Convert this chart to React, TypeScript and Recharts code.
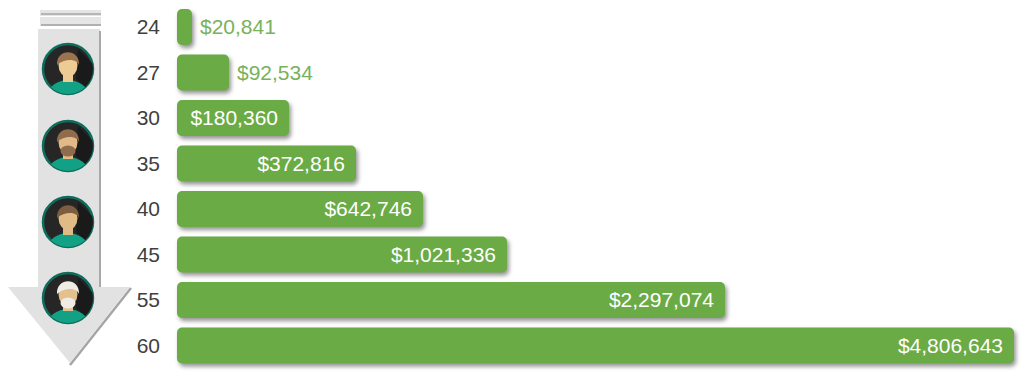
import React from 'react';
import { BarChart, Bar, XAxis, YAxis, LabelList, Rectangle } from 'recharts';

const ages = ['24', '27', '30', '35', '40', '45', '55', '60'];
const amounts = [20841, 92534, 180360, 372816, 642746, 1021336, 2297074, 4806643];
// the bars in the picture are not proportional to the printed amounts, so lengths are read separately
const barLengths = [15, 52, 112, 179, 246, 330, 548, 837];

const chartData = ages.map((age, i) => ({ age, amount: amounts[i], length: barLengths[i] }));

const FONT = '"Liberation Sans", Arial, sans-serif';
const GREEN = '#6bab46';

const AmountLabel = (props: any) => {
  const { x, y, width, height, value } = props;
  const text = '$' + Number(value).toLocaleString('en-US');
  const inside = width > 100;
  return (
    <text
      x={inside ? x + width - 11 : x + width + 8}
      y={y + height / 2}
      dy="0.35em"
      textAnchor={inside ? 'end' : 'start'}
      fill={inside ? '#ffffff' : '#78b25a'}
      fontSize={21}
      fontFamily={FONT}
    >
      {text}
    </text>
  );
};

const RoundedBar = (props: any) => (
  <Rectangle {...props} radius={5} style={{ filter: 'drop-shadow(2px 3px 2px rgba(60,60,60,0.55))' }} />
);

const Avatar = ({ cx, cy, hair, skin, top, beard }: any) => {
  const id = 'clip' + cy;
  return (
    <g>
      <clipPath id={id}>
        <circle cx={cx} cy={cy} r={25} />
      </clipPath>
      <circle cx={cx} cy={cy} r={25} fill="#262626" stroke="#0f6d5c" strokeWidth={2.5} />
      <g clipPath={`url(#${id})`}>
        <path d={`M${cx + 10} ${cy - 20} L${cx + 30} ${cy} L${cx + 24} ${cy + 24} L${cx + 8} ${cy + 10} Z`} fill="#1a1a1a" />
        <ellipse cx={cx} cy={cy + 26} rx={20} ry={15} fill={top} />
        <rect x={cx - 5} y={cy + 2} width={10} height={11} fill={skin} />
        <ellipse cx={cx} cy={cy - 4} rx={9.5} ry={12} fill={skin} />
        <path d={`M${cx - 11} ${cy - 4} C${cx - 12} ${cy - 21} ${cx + 12} ${cy - 21} ${cx + 11} ${cy - 4} C${cx + 8} ${cy - 11} ${cx - 4} ${cy - 10} ${cx - 11} ${cy - 4} Z`} fill={hair} />
        {beard && <ellipse cx={cx} cy={cy + 5} rx={7.5} ry={5.5} fill={beard} />}
      </g>
    </g>
  );
};

const ArrowGraphic = () => (
  <svg width={140} height={375} style={{ position: 'absolute', left: 0, top: 0 }}>
    <rect x={40} y={10} width={61} height={6} fill="#e6e5e5" />
    <rect x={41} y={13} width={60} height={2} fill="#b5b5b5" />
    <rect x={40} y={17} width={61} height={9} fill="#e6e5e5" />
    <rect x={41} y={24} width={60} height={2} fill="#b0b0b0" />
    <rect x={38} y={29} width={62} height={262} fill="#e3e2e2" />
    <rect x={99} y={31} width={2} height={258} fill="#a9a9a9" />
    <path d="M70 365 L131 288" stroke="#a5a5a5" strokeWidth={2.5} fill="none" />
    <path d="M8 287 L130 287 L70 363 Z" fill="#e3e2e2" />
    <Avatar cx={68} cy={69} hair="#9a7350" skin="#eecb92" top="#12a185" />
    <Avatar cx={68} cy={146} hair="#8f6c4c" skin="#e2b988" top="#12a185" beard="#8f6c4c" />
    <Avatar cx={68} cy={222} hair="#7c5d3f" skin="#e0bb85" top="#12a185" />
    <Avatar cx={68} cy={298} hair="#efece6" skin="#e3c08c" top="#12a185" beard="#efece6" />
  </svg>
);

export default function App() {
  return (
    <div style={{ position: 'absolute', left: 0, top: 0, width: 1024, height: 375, background: '#fff', overflow: 'hidden' }}>
      <ArrowGraphic />
      <div style={{ position: 'absolute', left: 0, top: 0 }}>
        <BarChart
          width={1024}
          height={375}
          layout="vertical"
          data={chartData}
          margin={{ top: 4, right: 10, bottom: 7, left: 0 }}
          barCategoryGap={9}
        >
          <XAxis type="number" dataKey="length" domain={[0, 837]} hide />
          <YAxis
            type="category"
            dataKey="age"
            width={177}
            axisLine={false}
            tickLine={false}
            tickSize={0}
            tickMargin={17}
            tick={{ fontSize: 21, fontFamily: FONT, fill: '#404040' }}
          />
          <Bar dataKey="length" fill={GREEN} barSize={36} isAnimationActive={false} shape={<RoundedBar />}>
            <LabelList dataKey="amount" content={<AmountLabel />} />
          </Bar>
        </BarChart>
      </div>
    </div>
  );
}
